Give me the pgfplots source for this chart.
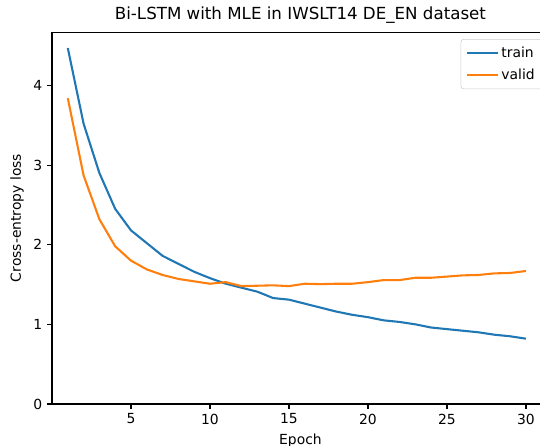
\documentclass[border=0pt]{standalone}
\usepackage{fontspec}
\setmainfont{DejaVu Sans}
\usepackage{pgfplots}
\pgfplotsset{compat=1.18}

\definecolor{mplblue}{HTML}{1F77B4}
\definecolor{mplorange}{HTML}{FF7F0E}

\begin{document}
\begin{tikzpicture}
\begin{axis}[
    scale only axis,
    width=357.8pt, height=267.8pt,
    at={(0,0)}, anchor=south west,
    xmin=0, xmax=31.45,
    ymin=0, ymax=4.67,
    xtick={5,10,15,20,25,30},
    ytick={0,1,2,3,4},
    tick align=outside,
    tick pos=left,
    major tick length=3.5pt,
    every tick/.style={black, line width=0.8pt},
    axis line style={line width=0.8pt},
    /pgf/number format/assume math mode=true,
    ticklabel style={font=\fontsize{10}{12}\selectfont},
    xlabel={Epoch},
    ylabel={Cross-entropy loss},
    label style={font=\fontsize{10}{12}\selectfont},
    title={Bi-LSTM with MLE in IWSLT14 DE\_EN dataset},
    title style={font=\fontsize{12}{14}\selectfont, yshift=-3.5pt},
    legend style={at={(1,1)}, xshift=-4.5pt, yshift=-5pt, anchor=north east,
        draw=black!20, rounded corners=2pt, fill=white, fill opacity=0.8,
        text opacity=1, font=\fontsize{10}{12}\selectfont,
        row sep=2.5pt, inner sep=3.5pt},
    legend cell align=left,
    legend image code/.code={\draw[#1] (0cm,0cm) -- (0.78cm,0cm);},
]
\addplot[mplblue, line width=1.5pt] coordinates {
(1,4.47) (2,3.52) (3,2.90) (4,2.45) (5,2.18) (6,2.02) (7,1.86) (8,1.76)
(9,1.66) (10,1.58) (11,1.51) (12,1.46) (13,1.41) (14,1.33) (15,1.31)
(16,1.26) (17,1.21) (18,1.16) (19,1.12) (20,1.09) (21,1.05) (22,1.03)
(23,1.00) (24,0.96) (25,0.94) (26,0.92) (27,0.90) (28,0.87) (29,0.85) (30,0.82)
};
\addlegendentry{train}
\addplot[mplorange, line width=1.5pt] coordinates {
(1,3.84) (2,2.87) (3,2.32) (4,1.98) (5,1.80) (6,1.69) (7,1.62) (8,1.57)
(9,1.54) (10,1.51) (11,1.53) (12,1.48) (13,1.485) (14,1.49) (15,1.48)
(16,1.51) (17,1.505) (18,1.51) (19,1.51) (20,1.53) (21,1.556) (22,1.556)
(23,1.585) (24,1.585) (25,1.60) (26,1.615) (27,1.62) (28,1.64) (29,1.645) (30,1.67)
};
\addlegendentry{valid}
\end{axis}
\pgfresetboundingbox
\useasboundingbox (-37.44pt,-30.24pt) rectangle (351.4pt,290.9pt);
\end{tikzpicture}
\end{document}
